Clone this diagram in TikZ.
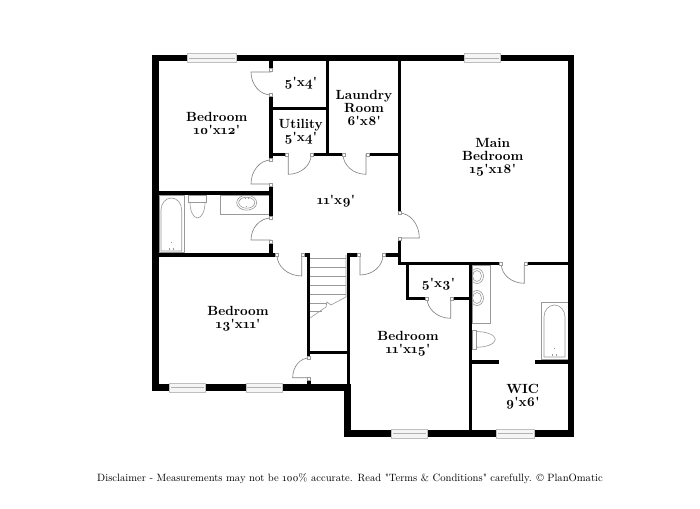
\documentclass[tikz,border=0pt]{standalone}
\usepackage{fontspec}
\setmainfont{Latin Modern Roman}[Numbers=OldStyle,Ligatures=TeXOff]
\usepackage{tikz}

\begin{document}
\begin{tikzpicture}[x=0.02cm,y=0.02cm]
\tikzstyle{every node}+=[inner sep=0pt]
\tikzstyle{outerwall}=[black,line width=3.9pt,line join=miter]
\tikzstyle{wall}=[black,line width=2pt]
\tikzstyle{door}=[black!50,line width=0.35pt]
\tikzstyle{jamb}=[black!40,fill=white,line width=0.3pt]
\tikzstyle{fixture}=[black!40,line width=0.35pt]
\tikzstyle{window}=[black!25,fill=black!4,line width=0.4pt]
\tikzstyle{pane}=[black!30,line width=0.5pt]
\tikzstyle{room}=[align=center,scale=0.757,font=\fontsize{10}{9.8}\selectfont\bfseries]
\useasboundingbox (0,0) rectangle (700,-509);
\fill [white] (0,0) rectangle (700,-509);
\draw [fixture] (159,-195) rectangle (184.3,-252.7);
\draw [fixture] (161,-251) -- (161,-210) arc[start angle=180,end angle=0,x radius=10.35,y radius=12] -- (181.7,-251) -- cycle;
\draw [fixture] (169.5,-248) -- (169.5,-250) (173.5,-248) -- (173.5,-250) (171.5,-242) -- (171.5,-243);
\draw [fixture] (188,-195) rectangle (206.7,-202.5);
\draw [fixture] (190,-202.5) arc[start angle=180,end angle=360,x radius=7.5,y radius=15.5];
\draw [fixture] (220.7,-195) rectangle (269,-214);
\draw [fixture] (246.7,-202.7) ellipse [x radius=10,y radius=7.5];
\draw [fixture] (246.7,-202.7) ellipse [x radius=8,y radius=5.5];
\draw [fixture] (245,-198) -- (245,-199.5) (248.5,-198) -- (248.5,-199.5) (246.7,-206) -- (246.7,-207);
\draw [fixture] (472,-265) rectangle (490.7,-323.3);
\draw [fixture] (477,-276) ellipse [x radius=6.5,y radius=7.5];
\draw [fixture] (477,-276) ellipse [x radius=4.5,y radius=5.5];
\draw [fixture] (477,-298) ellipse [x radius=6.5,y radius=7.5];
\draw [fixture] (477,-298) ellipse [x radius=4.5,y radius=5.5];
\draw [fixture] (472,-330) rectangle (476,-349);
\draw [fixture] (476,-331.5) arc[start angle=90,end angle=-90,x radius=19.3,y radius=7.9];
\draw [fixture] (541.7,-302.3) rectangle (568,-359.3);
\draw [fixture] (544,-357) -- (544,-317) arc[start angle=180,end angle=0,x radius=10.5,y radius=12] -- (565,-357) -- cycle;
\draw [fixture] (552.5,-354) -- (552.5,-356) (556,-354) -- (556,-356) (554.3,-348) -- (554.3,-349);
\draw [fixture] (310,-258) -- (346,-258);
\draw [fixture] (310,-267) -- (346,-267);
\draw [fixture] (310,-276) -- (346,-276);
\draw [fixture] (310,-285) -- (346,-285);
\draw [fixture] (310,-294) -- (346,-294);
\draw [fixture] (310,-303) -- (327,-303);
\draw [fixture] (310,-311) -- (322,-311);
\draw [fixture] (346,-255) -- (346,-297) -- (331,-305) -- (327,-302) -- (326,-307) -- (310,-318);
\draw [door] (271,-72) -- (251,-72) arc[start angle=180,end angle=270,x radius=20,y radius=23];
\draw [door] (271,-184) -- (251,-184) arc[start angle=180,end angle=90,x radius=20,y radius=24];
\draw [door] (271,-240) -- (251,-240) arc[start angle=180,end angle=90,x radius=20,y radius=22];
\draw [door] (288.3,-154) -- (288.3,-174.3) arc[start angle=270,end angle=360,x radius=23,y radius=20.3];
\draw [door] (366,-154) -- (366,-174.3) arc[start angle=270,end angle=180,x radius=23,y radius=20.3];
\draw [door] (301.7,-255) -- (301.7,-276) arc[start angle=270,end angle=180,x radius=24.7,y radius=21];
\draw [door] (360,-255) -- (360,-275) arc[start angle=270,end angle=360,x radius=23,y radius=20];
\draw [door] (399,-238) -- (419.3,-238) arc[start angle=0,end angle=90,x radius=20.3,y radius=25];
\draw [door] (524.3,-264) -- (524.3,-283.3) arc[start angle=270,end angle=180,x radius=23,y radius=19.3];
\draw [door] (450.7,-298) -- (450.7,-318.3) arc[start angle=270,end angle=180,x radius=23.7,y radius=20.3];
\draw [door] (309,-377.7) -- (292.7,-377.7) arc[start angle=180,end angle=90,x radius=16.3,y radius=19.7];
\draw [outerwall] (155.4,-58) -- (571,-58) -- (571,-433.4) -- (347.4,-433.4) -- (347.4,-387.4) -- (155.4,-387.4) -- cycle;
\draw [wall] (271,-58) -- (271,-69);
\draw [wall] (271,-97) -- (271,-158);
\draw [wall] (271,-187) -- (271,-216);
\draw [wall] (271,-243) -- (271,-255);
\draw [wall] (159,-193) -- (273,-193);
\draw [wall] (159,-255) -- (275,-255);
\draw [wall] (327.5,-58) -- (327.5,-154);
\draw [wall] (271,-108.5) -- (327.5,-108.5);
\draw [wall] (269,-154.3) -- (285,-154.3);
\draw [wall] (314,-154.3) -- (341.5,-154.3);
\draw [wall] (370,-154.3) -- (399.5,-154.3);
\draw [wall] (399.5,-58) -- (399.5,-211);
\draw [wall] (399.5,-241) -- (399.5,-263.5);
\draw [wall] (304.5,-255) -- (309,-255);
\draw [wall] (308.7,-253.2) -- (308.7,-356);
\draw [wall] (307,-352.3) -- (348.5,-352.3);
\draw [wall] (309,-380) -- (309,-384);
\draw [wall] (348.5,-253.2) -- (348.5,-384);
\draw [wall] (348.5,-255) -- (356.7,-255);
\draw [wall] (385.5,-255) -- (399.5,-255);
\draw [wall] (397.7,-263.5) -- (499,-263.5);
\draw [wall] (528,-263.5) -- (568,-263.5);
\draw [wall] (407.5,-263.5) -- (407.5,-298.3);
\draw [wall] (406,-298.3) -- (425,-298.3);
\draw [wall] (454,-298.3) -- (470.3,-298.3);
\draw [wall] (470.3,-263.5) -- (470.3,-430);
\draw [wall] (470.3,-362) -- (499,-362);
\draw [wall] (535,-362) -- (568,-362);
\draw [jamb] (269.6,-68.6) rectangle +(3,-3);
\draw [jamb] (269.6,-93.5) rectangle +(3,-3);
\draw [jamb] (269.6,-158.5) rectangle +(3,-3);
\draw [jamb] (269.6,-183.5) rectangle +(3,-3);
\draw [jamb] (269.6,-216.5) rectangle +(3,-3);
\draw [jamb] (269.6,-240.2) rectangle +(3,-3);
\draw [jamb] (275.5,-253.5) rectangle +(3,-3);
\draw [jamb] (300.8,-253.5) rectangle +(3,-3);
\draw [jamb] (357.5,-253.5) rectangle +(3,-3);
\draw [jamb] (381.8,-253.5) rectangle +(3,-3);
\draw [jamb] (285.5,-152.8) rectangle +(3,-3);
\draw [jamb] (310.2,-152.8) rectangle +(3,-3);
\draw [jamb] (341.8,-152.8) rectangle +(3,-3);
\draw [jamb] (366.5,-152.8) rectangle +(3,-3);
\draw [jamb] (398,-211.5) rectangle +(3,-3);
\draw [jamb] (398,-237.5) rectangle +(3,-3);
\draw [jamb] (499.5,-262) rectangle +(3,-3);
\draw [jamb] (524.5,-262) rectangle +(3,-3);
\draw [jamb] (425.5,-296.8) rectangle +(3,-3);
\draw [jamb] (450.5,-296.8) rectangle +(3,-3);
\draw [jamb] (307.5,-356.2) rectangle +(3,-3);
\draw [jamb] (307.5,-376.8) rectangle +(3,-3);
\draw [window] (187.7,-53.3) rectangle (236,-62.3);
\draw [pane] (189,-58) -- (234.7,-58);
\draw [window] (464,-53.3) rectangle (500,-62.3);
\draw [pane] (465.3,-58) -- (498.7,-58);
\draw [window] (169.3,-383) rectangle (205.7,-392);
\draw [pane] (170.6,-387.5) -- (204.4,-387.5);
\draw [window] (246,-383) rectangle (282.3,-392);
\draw [pane] (247.3,-387.5) -- (281,-387.5);
\draw [window] (391.7,-429) rectangle (427.3,-438);
\draw [pane] (393,-433.5) -- (426,-433.5);
\draw [window] (496.7,-429) rectangle (534.3,-438);
\draw [pane] (498,-433.5) -- (533,-433.5);
\node [room] (bedroomnw) at (216.7,-123.5) {Bedroom\\10'x12'};
\node [room] (closetnw) at (300.7,-83.3) {5'x4'};
\node [room] (utility) at (300.7,-132) {Utility\\5'x4'};
\node [room] (laundry) at (364,-107.5) {Laundry\\Room\\6'x8'};
\node [room] (mainbed) at (492.7,-157) {Main\\Bedroom\\15'x18'};
\node [room] (hall) at (336,-201.7) {11'x9'};
\node [room] (bedroomsw) at (238,-319) {Bedroom\\13'x11'};
\node [room] (bedroomse) at (408,-343.5) {Bedroom\\11'x15'};
\node [room] (closetse) at (438.3,-284.3) {5'x3'};
\node [room] (wic) at (522.7,-396.3) {WIC\\9'x6'};
\node [scale=0.603,font=\fontsize{10}{12}\selectfont] (disclaimer) at (350,-479) {Disclaimer - Measurements may not be 100\% accurate. Read "Terms \& Conditions" carefully. © PlanOmatic};
\end{tikzpicture}
\end{document}
